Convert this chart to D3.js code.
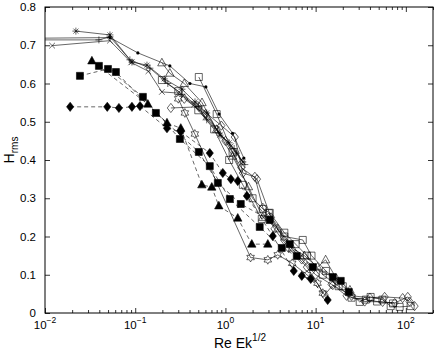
<!DOCTYPE html>
<html>
<head>
<meta charset="utf-8">
<script src="https://cdn.jsdelivr.net/npm/d3@7"></script>
<style>
  html, body { margin: 0; padding: 0; background: #fff; }
  svg { display: block; font-family: "Liberation Sans", Arial, Helvetica, sans-serif; }
</style>
</head>
<body>
<div id="chart"></div>
<script>
// ---- data (Re Ek^1/2, Hrms) ----
const filledDiamonds = [[0.019,0.539],[0.049,0.539],[0.066,0.536],[0.092,0.539],[0.113,0.541],[0.225,0.483],[0.32,0.474],[0.671,0.418],[0.935,0.366],[1.15,0.350],[1.37,0.345],[1.73,0.306],[3.35,0.201],[5.72,0.110],[7.02,0.097],[8.83,0.089],[13.6,0.034]];
const filledSquaresA = [[0.0244,0.620],[0.0499,0.638],[0.1217,0.565],[0.3126,0.455],[0.671,0.384],[1.12,0.298],[2.40,0.225],[4.21,0.170],[6.18,0.149],[15.5,0.094]];
const filledSquaresB = [[0.0396,0.646],[0.0611,0.630],[0.1695,0.523],[0.507,0.421],[0.824,0.340],[1.48,0.285],[3.10,0.243],[5.17,0.180],[9.29,0.120],[19.0,0.084],[23.3,0.055]];
const filledTriangles = [[0.0331,0.659],[0.138,0.546],[0.225,0.497],[0.32,0.483],[0.548,0.335],[0.706,0.329],[0.845,0.280],[1.37,0.248],[1.96,0.180],[2.95,0.180]];
const asterisks = [[0.022,0.737],[0.0525,0.727],[0.092,0.656],[0.135,0.648],[0.21,0.612],[0.33,0.585],[0.46,0.552],[0.62,0.523],[0.87,0.465],[1.1,0.445],[1.33,0.418],[1.56,0.395]];
const pluses = [[0.005,0.714],[0.0396,0.714],[0.0525,0.722],[0.0873,0.662],[0.1455,0.640],[0.23,0.600],[0.33,0.572],[0.50,0.540],[0.62,0.505],[0.85,0.470],[1.25,0.430],[1.64,0.388]];
const crosses = [[0.012,0.699],[0.0525,0.712],[0.09,0.655],[0.14,0.632],[0.1976,0.578],[0.30,0.575],[0.45,0.545],[0.60,0.512],[0.80,0.480],[1.15,0.436],[1.5,0.400]];
const dots = [[0.005,0.718],[0.0525,0.720],[0.107,0.680],[0.242,0.646],[0.404,0.600],[0.607,0.591],[0.85,0.520],[1.2,0.470],[1.6,0.405]];
const openTriangles = [[0.1976,0.654],[0.242,0.627],[0.35,0.600],[0.55,0.550],[0.8,0.480],[1.2,0.410],[1.8,0.330],[2.6,0.250],[3.8,0.220],[5.5,0.170],[7.5,0.150],[10.5,0.120],[12.9,0.139],[17,0.090],[24,0.060]];
const openSquaresA = [[0.1976,0.609],[0.3,0.580],[0.5,0.530],[0.75,0.480],[1.1,0.400],[1.56,0.335],[2.53,0.246],[3.03,0.261],[4.5,0.200],[7.2,0.191],[9,0.150],[13,0.110],[20,0.070],[30.8,0.029],[40.7,0.042],[55,0.035],[67.9,0.018],[85.4,0.016],[113,0.018]];
const openSquaresB = [[0.507,0.617],[0.8,0.520],[1.2,0.420],[2.0,0.300],[2.6,0.272],[3.1,0.262],[4.5,0.210],[6,0.180],[8,0.150],[12,0.100],[18,0.070],[25,0.040],[36,0.035],[48,0.030],[72,0.025]];
const openDiamondsA = [[0.2484,0.536],[0.507,0.539],[0.9,0.490],[1.27,0.460],[1.56,0.366],[2.12,0.356],[2.60,0.275],[3.5,0.220],[5,0.170],[8,0.120],[12.6,0.047],[15.5,0.073],[22,0.045],[35,0.030],[55.3,0.029],[75.2,0.026],[105,0.042],[125,0.018]];
const openDiamondsB = [[0.35,0.560],[0.6,0.520],[1.0,0.450],[1.5,0.380],[2.24,0.350],[3.2,0.250],[4.5,0.190],[7,0.140],[10,0.100],[15,0.075],[25,0.045],[40,0.040],[58.2,0.042],[92.2,0.039],[110,0.030]];
const hexagrams = [[0.30,0.560],[0.355,0.523],[0.458,0.468],[1.9,0.145],[2.95,0.139],[3.8,0.152],[5.5,0.130],[8,0.100],[10.5,0.078],[12,0.052]];

const yTicks = [0, 0.1, 0.2, 0.3, 0.4, 0.5, 0.6, 0.7, 0.8];
const xTickExps = [-2, -1, 0, 1, 2];

const series = [
  { data: filledDiamonds, marker: "diamond", filled: true, dashed: true },
  { data: filledSquaresA, marker: "square", filled: true, dashed: true },
  { data: filledSquaresB, marker: "square", filled: true, dashed: true },
  { data: filledTriangles, marker: "triangle", filled: true, dashed: true },
  { data: asterisks, marker: "asterisk" },
  { data: pluses, marker: "plus" },
  { data: crosses, marker: "cross" },
  { data: dots, marker: "dot" },
  { data: openTriangles, marker: "triangle" },
  { data: openSquaresA, marker: "square" },
  { data: openSquaresB, marker: "square" },
  { data: openDiamondsA, marker: "diamond" },
  { data: openDiamondsB, marker: "diamond" },
  { data: hexagrams, marker: "hexagram" }
];

const W = 436, H = 352;
const plot = { left: 45, right: 433, top: 7, bottom: 313 };

const x = d3.scaleLog().domain([0.01, 200]).range([plot.left, plot.right]);
const y = d3.scaleLinear().domain([0, 0.8]).range([plot.bottom, plot.top]);

const svg = d3.select("#chart").append("svg")
  .attr("width", W)
  .attr("height", H);

svg.append("defs").append("clipPath")
  .attr("id", "clip")
  .append("rect")
  .attr("x", plot.left).attr("y", plot.top)
  .attr("width", plot.right - plot.left)
  .attr("height", plot.bottom - plot.top);

// marker shapes, centred on 0,0
function markerPath(type) {
  switch (type) {
    case "diamond": return "M0,-4.6L3.6,0L0,4.6L-3.6,0Z";
    case "square": return "M-3.5,-3.5h7v7h-7Z";
    case "triangle": return "M0,-4.6L4.2,3L-4.2,3Z";
    case "plus": return "M-3.5,0H3.5M0,-3.5V3.5";
    case "cross": return "M-2.8,-2.8L2.8,2.8M-2.8,2.8L2.8,-2.8";
    case "asterisk": return "M-3.5,0H3.5M0,-3.5V3.5M-2.5,-2.5L2.5,2.5M-2.5,2.5L2.5,-2.5";
    case "hexagram": {
      let pts = [];
      for (let i = 0; i < 12; i++) {
        const r = i % 2 === 0 ? 4.4 : 2.5;
        const a = -Math.PI / 2 + i * Math.PI / 6;
        pts.push([r * Math.cos(a), r * Math.sin(a)]);
      }
      return "M" + pts.map(p => p[0].toFixed(2) + "," + p[1].toFixed(2)).join("L") + "Z";
    }
  }
  return "";
}

const line = d3.line()
  .x(d => x(d[0]))
  .y(d => y(d[1]));

const g = svg.append("g").attr("clip-path", "url(#clip)");

series.forEach(s => {
  g.append("path")
    .datum(s.data)
    .attr("d", line)
    .attr("fill", "none")
    .attr("stroke", "#000")
    .attr("stroke-width", 0.6)
    .attr("stroke-dasharray", s.dashed ? "4,3" : null);

  const marks = g.append("g");
  if (s.marker === "dot") {
    marks.selectAll("circle")
      .data(s.data)
      .join("circle")
      .attr("cx", d => x(d[0]))
      .attr("cy", d => y(d[1]))
      .attr("r", 1.6)
      .attr("fill", "#000");
  } else {
    marks.selectAll("path")
      .data(s.data)
      .join("path")
      .attr("transform", d => `translate(${x(d[0])},${y(d[1])})`)
      .attr("d", markerPath(s.marker))
      .attr("fill", s.filled ? "#000" : "none")
      .attr("stroke", "#000")
      .attr("stroke-width", 0.6);
  }
});

// ---- axes (MATLAB style: ticks inside, box on) ----
const axisColor = "#000";

function styleAxis(sel) {
  sel.select(".domain").remove();
  sel.selectAll(".tick line").attr("stroke", axisColor).attr("stroke-width", 0.8);
}

// y ticks left + right
svg.append("g")
  .attr("transform", `translate(${plot.left},0)`)
  .call(d3.axisLeft(y).tickValues(yTicks).tickSize(-5).tickPadding(9)
    .tickFormat(d => d === 0 ? "0" : d.toFixed(1)))
  .call(styleAxis)
  .call(a => a.selectAll("text").attr("font-size", 11.5).attr("fill", "#000")
    .attr("font-family", "'Liberation Sans', Arial, sans-serif"));

svg.append("g")
  .attr("transform", `translate(${plot.right},0)`)
  .call(d3.axisRight(y).tickValues(yTicks).tickSize(-5).tickFormat(""))
  .call(styleAxis);

// x major + minor ticks, bottom and top
const majors = xTickExps.map(e => Math.pow(10, e));
const minors = [];
xTickExps.forEach(e => {
  for (let k = 2; k <= 9; k++) {
    const v = k * Math.pow(10, e);
    if (v <= 200) minors.push(v);
  }
});

[["bottom", plot.bottom], ["top", plot.top]].forEach(([side, yy]) => {
  const mk = side === "bottom" ? d3.axisBottom : d3.axisTop;
  svg.append("g")
    .attr("transform", `translate(0,${yy})`)
    .call(mk(x).tickValues(majors).tickSize(-5).tickFormat(""))
    .call(styleAxis);
  svg.append("g")
    .attr("transform", `translate(0,${yy})`)
    .call(mk(x).tickValues(minors).tickSize(-3).tickFormat(""))
    .call(styleAxis);
});

// x tick labels 10^n
const xl = svg.append("g");
xTickExps.forEach(e => {
  const t = xl.append("text")
    .attr("x", x(Math.pow(10, e)))
    .attr("y", 329)
    .attr("text-anchor", "middle")
    .attr("font-size", 11.5)
    .attr("fill", "#000");
  t.append("tspan").text("10");
  t.append("tspan").attr("dy", -6).attr("font-size", 8.5).text(String(e).replace("-", "\u2212"));
});

// box
svg.append("rect")
  .attr("x", plot.left).attr("y", plot.top)
  .attr("width", plot.right - plot.left)
  .attr("height", plot.bottom - plot.top)
  .attr("fill", "none")
  .attr("stroke", axisColor)
  .attr("stroke-width", 1);

// axis labels
const xlab = svg.append("text")
  .attr("x", 240)
  .attr("y", 348)
  .attr("text-anchor", "middle")
  .attr("font-size", 14)
  .attr("fill", "#000");
xlab.append("tspan").text("Re Ek");
xlab.append("tspan").attr("dy", -7).attr("font-size", 10).text("1/2");

const ylab = svg.append("text")
  .attr("transform", "translate(14,150) rotate(-90)")
  .attr("text-anchor", "middle")
  .attr("font-size", 14)
  .attr("fill", "#000");
ylab.append("tspan").text("H");
ylab.append("tspan").attr("dy", 4).attr("font-size", 10).text("rms");
</script>
</body>
</html>
